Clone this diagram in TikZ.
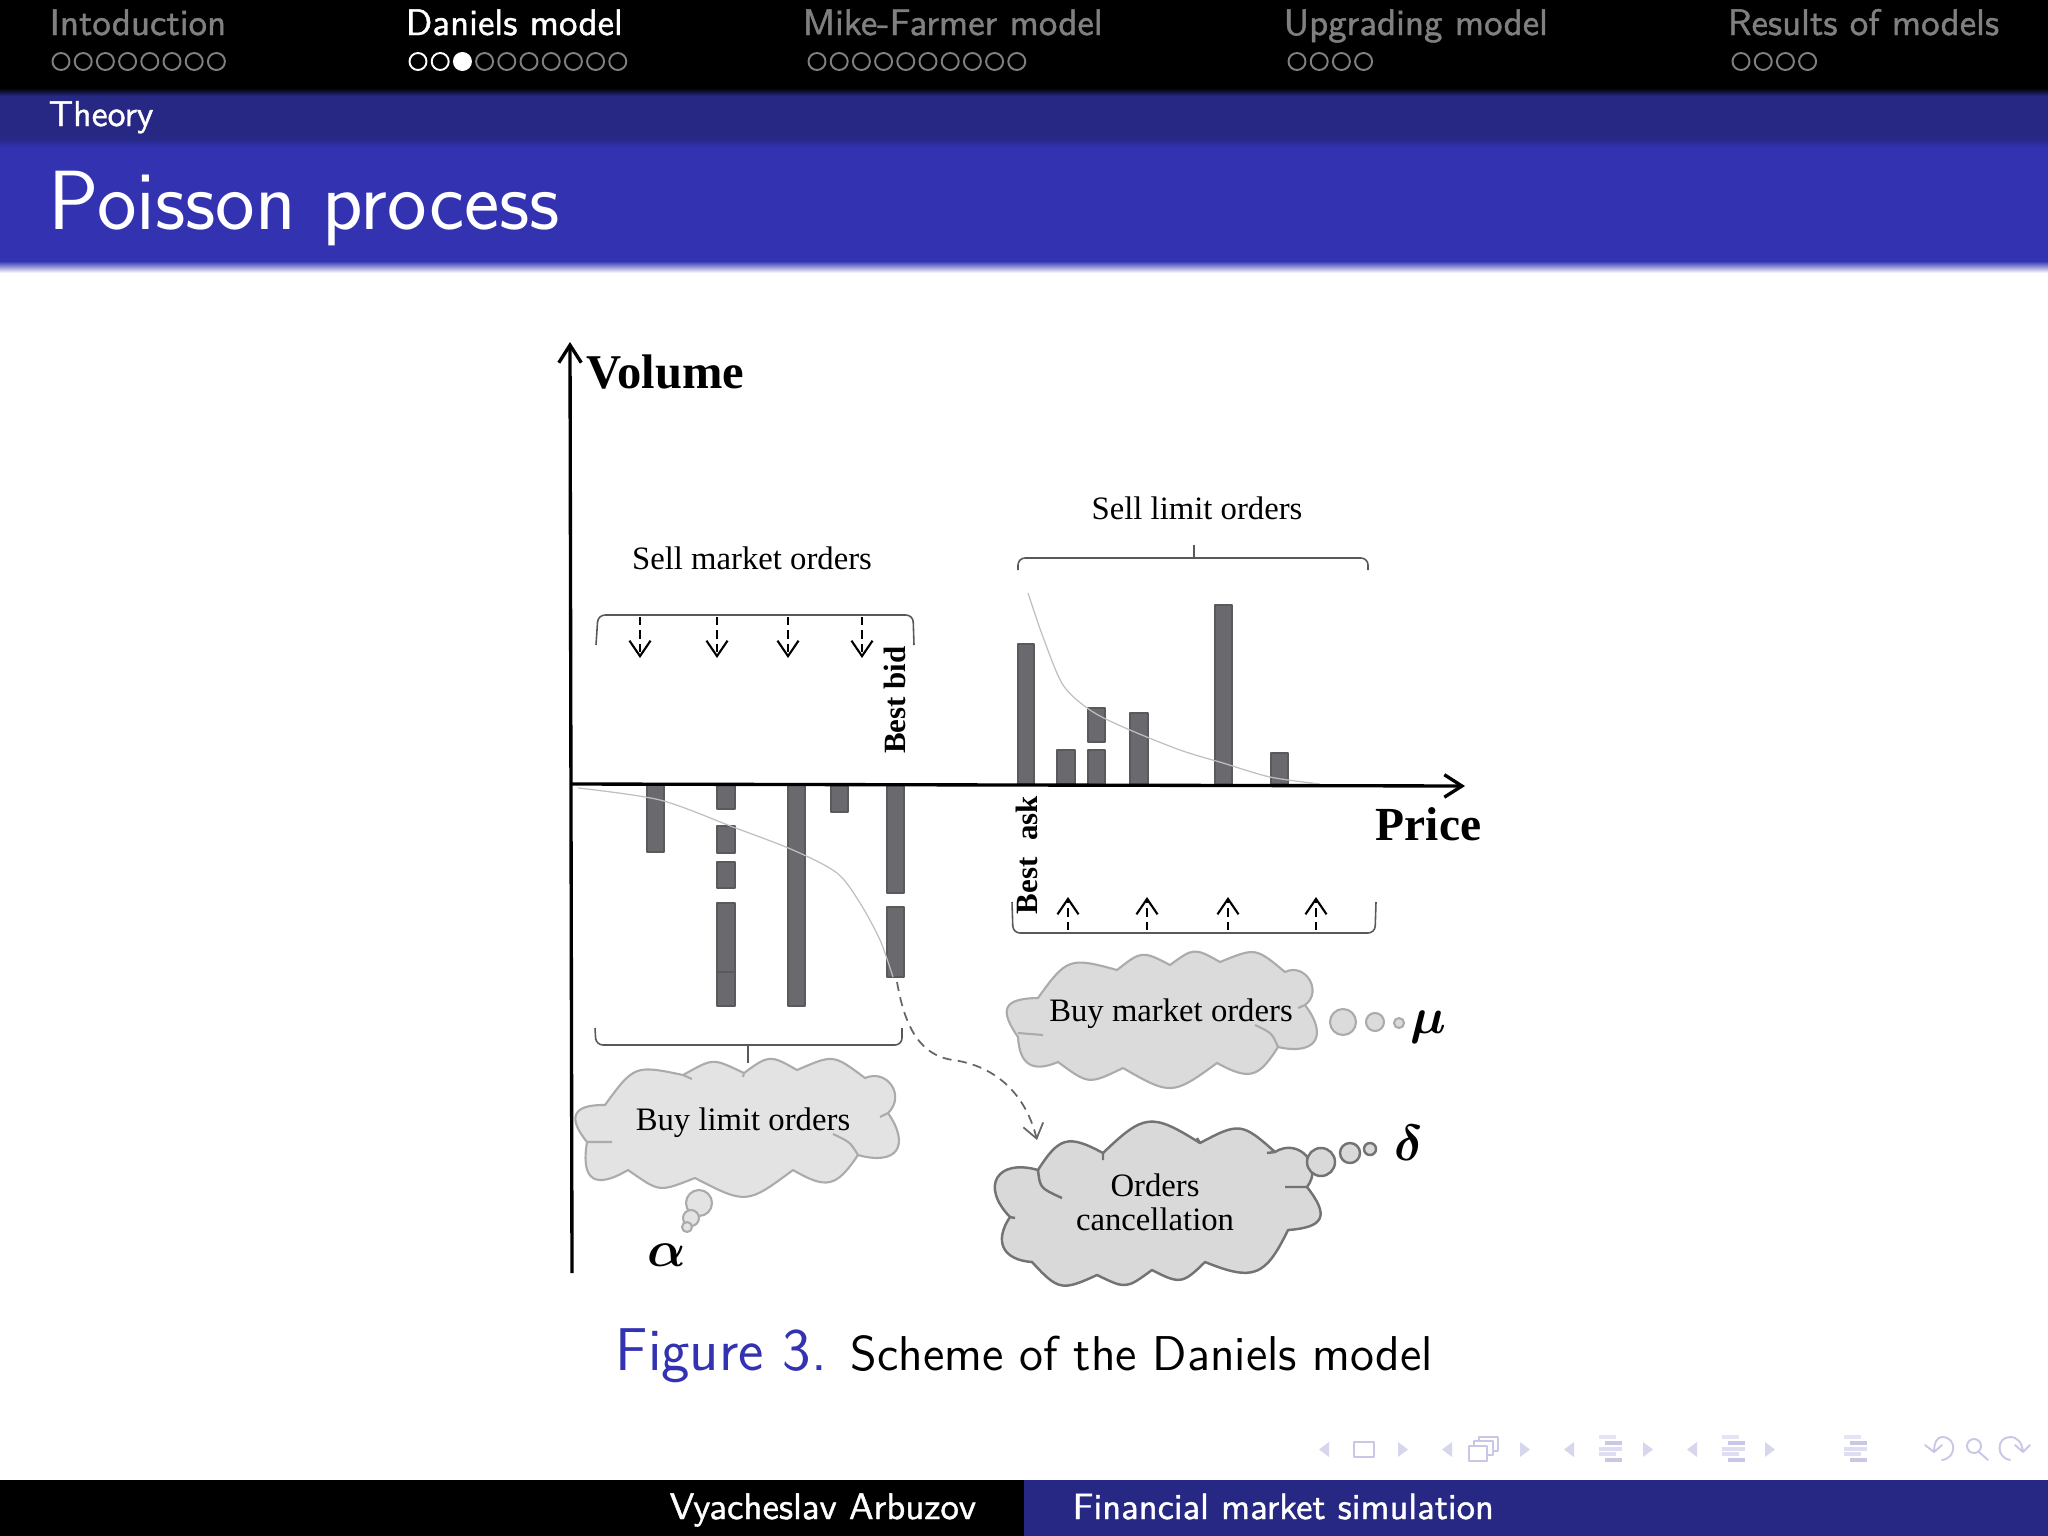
\documentclass[tikz,border=0pt]{standalone}
\usepackage{fontspec}
\newfontfamily\figfont{Liberation Serif}
\newfontfamily\headfont[FakeBold=1.2]{Latin Modern Sans}
\usetikzlibrary{arrows.meta}
\definecolor{deepblue}{HTML}{262884}
\definecolor{slideblue}{HTML}{3333B2}
\definecolor{headgray}{HTML}{808080}
\definecolor{navpale}{HTML}{C8C8E6}
\definecolor{barfill}{HTML}{6A6A6E}
\newcommand{\rategreek}[1]{{\boldmath\Large$#1$}}
\tikzset{
	headtext/.style={inner sep=0pt, anchor=base west, font=\headfont\fontsize{10.5}{12}\selectfont},
	navdot/.style={draw=headgray, line width=0.55pt},
	orderbar/.style={fill=barfill, draw=barfill!85!black, line width=0.4pt},
	bracket/.style={draw=black!65, line width=0.45pt, rounded corners=2pt},
	depthline/.style={draw=black!25, line width=0.35pt},
	flowarrow/.style={line width=0.6pt, dash pattern=on 2.4pt off 1.4pt, -{Straight Barb[length=4.4pt,width=6pt]}},
	figlabel/.style={inner sep=0pt, anchor=base, font=\figfont\fontsize{9.3}{9.7}\selectfont},
	boldlabel/.style={inner sep=0pt, anchor=base, font=\figfont\bfseries\fontsize{8.8}{10}\selectfont},
	cloudlight/.style={fill=black!11, draw=black!33, line width=0.6pt},
	cloudmid/.style={fill=black!14, draw=black!33, line width=0.6pt},
	clouddark/.style={fill=black!15, draw=black!55, line width=0.7pt},
	lobe/.style={bend left=#1, looseness=1.5},
	widelobe/.style={bend left=#1, looseness=2},
	navbar/.style={line width=1.1pt},
	navicon/.style={draw=navpale, line width=0.55pt, line cap=round, line join=round}
}
\begin{document}
\begin{tikzpicture}[x=0.01cm, y=-0.01cm, line join=round, >={Straight Barb[length=5pt,width=6.4pt]}]
	\useasboundingbox (0,0) rectangle (2048,1536);
	\path
	(572,784) coordinate (O)
	(570,342) coordinate (V)
	(572,1273) coordinate (D)
	(1465,786) coordinate (P)
	(897,982) coordinate (cancelStart)
	(953,1060) coordinate (cancelMid)
	(1037,1140) coordinate (cancelEnd);
	% slide bands
	\fill (0,0) rectangle (2048,88);
	\shade[top color=black, bottom color=deepblue] (0,88) rectangle (2048,96);
	\fill[deepblue] (0,96) rectangle (2048,138);
	\shade[top color=deepblue, bottom color=slideblue] (0,138) rectangle (2048,148);
	\fill[slideblue] (0,148) rectangle (2048,261);
	\shade[top color=slideblue, bottom color=white] (0,261) rectangle (2048,273);
	\fill (0,1480) rectangle (1024,1536);
	\fill[deepblue] (1024,1480) rectangle (2048,1536);
	% headline
	\node[headtext, text=headgray] (secIntro) at (49,35) {Intoduction};
	\node[headtext, text=white] (secDaniels) at (405,35) {Daniels model};
	\node[headtext, text=headgray] (secFarmer) at (802,35) {Mike-Farmer model};
	\node[headtext, text=headgray] (secUpgrade) at (1283,35) {Upgrading model};
	\node[headtext, text=headgray] (secResults) at (1727,35) {Results of models};
	\foreach \xs/\n in {61/7, 817/9, 1297/3, 1741/3}
		\foreach \i in {0,...,\n}
			\draw[navdot] ({\xs+22.2*\i},61.5) circle (8.5);
	\foreach \i in {3,...,9}
		\draw[navdot] ({418+22.2*\i},61.5) circle (8.5);
	\foreach \i in {0,1}
		\draw[navdot, draw=white] ({418+22.2*\i},61.5) circle (8.5);
	\fill[white] (462.4,61.5) circle (9.5);
	\node[headtext, text=white, font=\headfont\fontsize{10.2}{12}\selectfont] (subTitle) at (48,126) {Theory};
	\node[headtext, text=white, font=\sffamily\fontsize{23.9}{26}\selectfont] (frameTitle) at (48,229) {Poisson process};
	% bars
	\foreach \xa/\xb/\ya/\yb in {1018/1034/644/784, 1057/1075/750/784, 1088/1105/750/784, 1088/1105/708/742, 1130/1148/713/784, 1215/1232/605/784, 1271/1288/753/784,
		647/664/784/852, 717/735/784/809, 717/735/826/853, 717/735/862/888, 717/735/903/972, 717/735/972/1006, 788/805/784/1006, 831/848/784/812, 887/904/784/893, 887/904/907/977}
		\draw[orderbar] (\xa,\ya) rectangle (\xb,\yb);
	% depth of book
	\draw[depthline] plot[smooth] coordinates {(1028,593) (1043,637) (1063,685) (1090,710) (1123,727) (1180,750) (1223,763) (1270,777) (1320,784)};
	\draw[depthline] plot[smooth] coordinates {(578,788) (660,800) (733,827) (793,850) (837,873) (860,903) (880,940) (893,977)};
	% axes
	\draw[->, line width=0.95pt] (D) -- (V);
	\draw[->, line width=0.95pt] (O) -- (P);
	\node[boldlabel, anchor=base west, font=\figfont\bfseries\fontsize{13.8}{15}\selectfont] (volume) at (586,388) {Volume};
	\node[boldlabel, anchor=base west, font=\figfont\bfseries\fontsize{13.5}{15}\selectfont] (price) at (1375,840) {Price};
	\node[boldlabel, rotate=90] (bestBid) at (905,700) {Best bid};
	\node[boldlabel, rotate=90] (bestAsk) at (1037,855) {Best\hspace{2.5pt} ask};
	% brackets
	\draw[bracket] (596,645) -- (598,615) -- (913,615) -- (914,645);
	\draw[bracket] (1018,570) -- (1018,558) -- (1368,558) -- (1368,570);
	\draw[bracket, rounded corners=0pt] (1194,545) -- (1194,558);
	\draw[bracket] (1012,902) -- (1013,933) -- (1375,933) -- (1376,902);
	\draw[bracket] (595,1028) -- (596,1045) -- (902,1045) -- (902,1028);
	\draw[bracket, rounded corners=0pt] (748,1045) -- (748,1063);
	\node[figlabel] (sellMarket) at (752,569) {Sell market orders};
	\node[figlabel] (sellLimit) at (1197,519) {Sell limit orders};
	\foreach \x in {640,717,788,862}
		\draw[flowarrow] (\x,617) -- (\x,658);
	\foreach \x in {1068,1147,1228,1316}
		\draw[flowarrow] (\x,930) -- (\x,897);
	% buy limit cloud
	\draw[cloudlight] (605,1105) to[lobe=33] (683,1075) to[lobe=27] (744,1073) to[lobe=33] (797,1070) to[lobe=30] (865,1078)
		to[lobe=80] (888,1113) to[widelobe=70] (858,1155) to[lobe=43] (793,1170) to[lobe=32] (695,1178) to[lobe=28] (628,1170)
		to[widelobe=65] (587,1142) to[widelobe=65] cycle;
	\draw[cloudlight, fill=none] (587,1142) -- (612,1142) (858,1155) .. controls (850,1142) .. (833,1134) (888,1113) -- (880,1117) (683,1075) -- (692,1079) (744,1073) -- (743,1077);
	\foreach \x/\y/\r in {699/1203/13, 691/1218/8, 687/1227/5}
		\draw[cloudlight] (\x,\y) circle (\r);
	\node[figlabel] (buyLimit) at (743,1130) {Buy limit orders};
	\node[inner sep=0pt] (alpha) at (667,1255) {\rategreek{\alpha}};
	% buy market cloud
	\draw[cloudmid] (1038,998) to[lobe=35] (1117,970) to[lobe=33] (1170,965) to[lobe=33] (1220,962) to[lobe=31] (1285,972)
		to[lobe=85] (1305,1005) to[widelobe=70] (1278,1047) to[lobe=43] (1217,1063) to[lobe=33] (1123,1068) to[lobe=31] (1058,1062)
		to[lobe=55] (1018,1037) to[widelobe=62] cycle;
	\draw[cloudmid, fill=none] (1018,1033) -- (1043,1035) (1278,1047) .. controls (1272,1033) .. (1255,1025) (1305,1005) -- (1298,1008);
	\foreach \x/\y/\r in {1343/1022/13, 1375/1022/9, 1399/1023/5}
		\draw[cloudmid] (\x,\y) circle (\r);
	\node[figlabel] (buyMarket) at (1171,1021) {Buy market orders};
	\node[inner sep=0pt] (mu) at (1428,1027) {\rategreek{\mu}};
	% cancellation cloud
	\draw[clouddark] (1038,1170) to[lobe=43] (1103,1153) to[lobe=38] (1200,1143) to[lobe=35] (1275,1152) to[lobe=80] (1307,1187)
		to[widelobe=62] (1288,1230) to[lobe=43] (1205,1262) to[lobe=36] (1152,1270) to[lobe=31] (1097,1275) to[lobe=36] (1032,1262)
		to[lobe=60] (1010,1217) to[widelobe=75] cycle;
	\draw[clouddark, fill=none] (1038,1170) .. controls (1040,1188) .. (1062,1198) (1015,1218) -- (1010,1217) (1267,1153) -- (1275,1152) (1285,1187) -- (1307,1187) (1103,1153) -- (1103,1160) (1200,1143) -- (1197,1138);
	\foreach \x/\y/\r in {1321/1162/14, 1350/1153/10, 1370/1149/6}
		\draw[clouddark] (\x,\y) circle (\r);
	\node[figlabel, anchor=center, align=center] (orders) at (1155,1202) {Orders\\cancellation};
	\node[inner sep=0pt] (delta) at (1409,1143) {\rategreek{\delta}};
	% cancel path
	\draw[->, draw=black!60, line width=0.5pt, dash pattern=on 2.6pt off 1.8pt, >={Straight Barb[length=4pt,width=5.8pt]}] (cancelStart) to[out=-80,in=172] (cancelMid) to[out=-8,in=104] (cancelEnd);
	% caption
	\node[headtext, text=slideblue, font=\sffamily\fontsize{17.2}{20}\selectfont] (figTag) at (615,1370) {Figure 3.};
	\node[headtext, font=\sffamily\fontsize{13.9}{16}\selectfont] (figCaption) at (850,1370) {Scheme of the Daniels model};
	% footline
	\node[headtext, text=white, font=\headfont\fontsize{10.5}{12}\selectfont] (author) at (669,1519) {Vyacheslav Arbuzov};
	\node[headtext, text=white, font=\headfont\fontsize{10.4}{12}\selectfont] (talk) at (1072,1519) {Financial market simulation};
	% navigation symbols
	\foreach \x in {1324,1447,1569,1692}
		\fill[navpale!75] (\x+5,1442) -- (\x-5,1449.5) -- (\x+5,1457) -- cycle;
	\foreach \x in {1403,1525,1648,1770}
		\fill[navpale!75] (\x-5,1442) -- (\x+5,1449.5) -- (\x-5,1457) -- cycle;
	\draw[navicon] (1354,1442) rectangle (1374,1457);
	\draw[navicon, fill=white] (1479,1437) rectangle (1498,1451);
	\draw[navicon, fill=white] (1474,1441) rectangle (1493,1455);
	\draw[navicon, fill=white] (1469,1446) rectangle (1487,1461);
	\foreach \x in {1599,1722,1844}
		\foreach \xa/\xb/\y/\o in {0/17/1437/50, 6/23/1443/100, 0/23/1449/60, 0/17/1454/60, 6/23/1460/100}
			\draw[navbar, draw=navpale!\o] (\x+\xa,\y) -- (\x+\xb,\y);
	\draw[navicon] (1942,1460) .. controls (1957,1458) and (1957,1437) .. (1942,1437) .. controls (1937,1437) and (1934,1443) .. (1934,1452) (1925,1445) -- (1934,1452) -- (1942,1445);
	\draw[navicon] (1974,1446) circle (7) (1979,1452) -- (1988,1460);
	\draw[navicon] (2010,1460) .. controls (1996,1458) and (1996,1437) .. (2010,1437) .. controls (2018,1437) and (2022,1443) .. (2023,1452) (2015,1445) -- (2023,1452) -- (2030,1445);
\end{tikzpicture}
\end{document}
